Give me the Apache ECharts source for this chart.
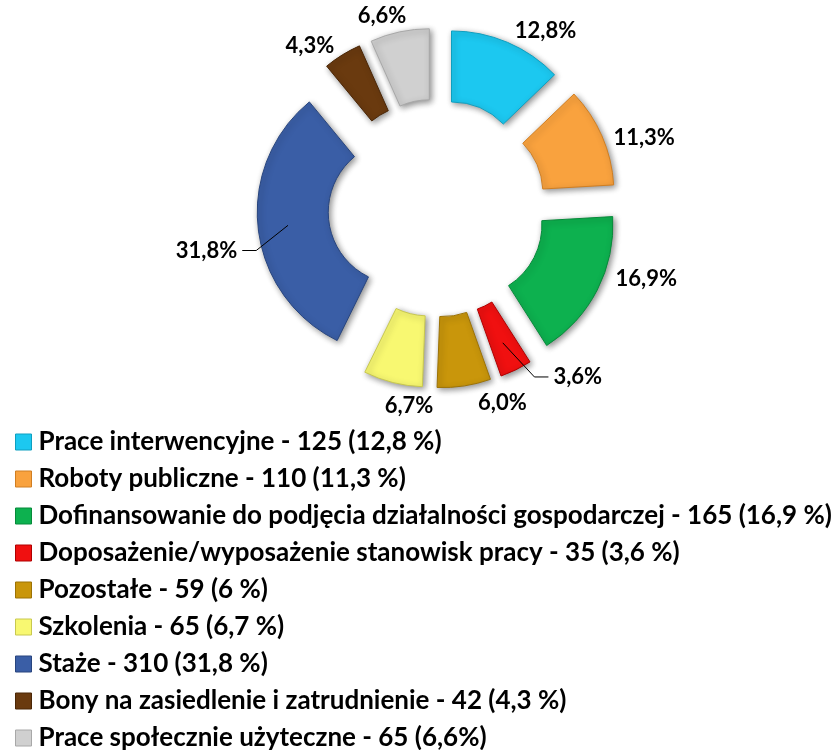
<!DOCTYPE html>
<html>
<head>
<meta charset="utf-8">
<script src="https://cdn.jsdelivr.net/npm/echarts@6/dist/echarts.min.js"></script>
<style>
html,body{margin:0;padding:0;background:#fff;}
#main{width:837px;height:750px;}
</style>
</head>
<body>
<div id="main"></div>
<script>
var categories = [
  'Prace interwencyjne',
  'Roboty publiczne',
  'Dofinansowanie do podjęcia działalności gospodarczej',
  'Doposażenie/wyposażenie stanowisk pracy',
  'Pozostałe',
  'Szkolenia',
  'Staże',
  'Bony na zasiedlenie i zatrudnienie',
  'Prace społecznie użyteczne'
];
var values = [125, 110, 165, 35, 59, 65, 310, 42, 65];
var labelPct = ['12,8%', '11,3%', '16,9%', '3,6%', '6,0%', '6,7%', '31,8%', '4,3%', '6,6%'];
var legendPct = ['12,8 %', '11,3 %', '16,9 %', '3,6 %', '6 %', '6,7 %', '31,8 %', '4,3 %', '6,6%'];

// styles
var colors = ['#1CC8F0', '#F9A23E', '#0DB14F', '#F01010', '#C9960B', '#F8F871', '#3A5EA6', '#6A3A0F', '#D0D0D0'];
var borders = ['#0E9FC0', '#D07E22', '#078A3A', '#B00000', '#9C7205', '#C8C850', '#28457E', '#4A2606', '#A8A8A8'];
// small label nudges (Excel "best fit" placement), in px
var labelNudge = [[-6, -6], [-5, 4], [2, -14], [15, 0], [2, 11], [53, 18], [4, 21], [6, -4], [19, -10]];
var leaderInset = 30; // Excel leader lines start inside the slice

var FONT = 'Lato';
var PIE_CENTER = [437, 208];
var PIE_RADIUS = [72, 143];
var EXPLODE = 37;

var sliceData = values.map(function (v, i) {
  return {
    name: categories[i],
    value: v,
    selected: true,
    itemStyle: { color: colors[i], borderColor: borders[i] }
  };
});
var labelData = values.map(function (v, i) {
  var item = {
    name: categories[i],
    value: v,
    selected: true,
    labelLine: { show: false, length: 6, length2: 6 }
  };
  if (i === 3) item.labelLine = { show: true, length: 8, length2: 14 };
  if (i === 6) item.labelLine = { show: true, length: 6, length2: 14 };
  return item;
});

var chart = echarts.init(document.getElementById('main'), null, { renderer: 'canvas' });
chart.setOption({
  animation: false,
  color: colors,
  legend: {
    orient: 'vertical',
    left: 15,
    top: 429,
    height: 330,
    padding: 0,
    itemWidth: 16,
    itemHeight: 16,
    itemGap: 11,
    icon: 'rect',
    selectedMode: false,
    itemStyle: { borderWidth: 1 },
    textStyle: { fontFamily: FONT, fontWeight: 'bold', fontSize: 26, color: '#000', lineHeight: 26, padding: [0, 0, 0, 2] },
    formatter: function (name) {
      var i = categories.indexOf(name);
      return name + ' - ' + values[i] + ' (' + legendPct[i] + ')';
    },
    data: categories
  },
  series: [{
    type: 'pie',
    z: 2,
    center: PIE_CENTER,
    radius: PIE_RADIUS,
    startAngle: 90,
    clockwise: true,
    selectedMode: 'multiple',
    selectedOffset: EXPLODE,
    silent: true,
    emphasis: { disabled: true },
    itemStyle: {
      borderWidth: 1,
      shadowBlur: 6,
      shadowColor: 'rgba(0,0,0,0.45)',
      shadowOffsetX: 2,
      shadowOffsetY: 2
    },
    label: { show: false },
    labelLine: { show: false },
    data: sliceData
  }, {
    type: 'pie',
    z: 5,
    center: PIE_CENTER,
    radius: PIE_RADIUS,
    startAngle: 90,
    clockwise: true,
    selectedMode: 'multiple',
    selectedOffset: EXPLODE,
    avoidLabelOverlap: false,
    silent: true,
    emphasis: { disabled: true },
    itemStyle: { color: 'rgba(0,0,0,0)', borderWidth: 0 },
    label: {
      show: true,
      position: 'outside',
      fontFamily: FONT,
      fontWeight: 'bold',
      fontSize: 22,
      color: '#000',
      formatter: function (p) { return labelPct[p.dataIndex]; }
    },
    labelLayout: function (p) {
      var n = labelNudge[p.dataIndex];
      var res = { dx: n[0], dy: n[1] };
      var pts = p.labelLinePoints;
      if (pts && pts.length === 3) {
        var vx = pts[1][0] - pts[0][0], vy = pts[1][1] - pts[0][1];
        var len = Math.sqrt(vx * vx + vy * vy) || 1;
        res.labelLinePoints = [
          [pts[0][0] - leaderInset * vx / len, pts[0][1] - leaderInset * vy / len],
          [pts[1][0] + n[0], pts[1][1] + n[1]],
          [pts[2][0] + n[0], pts[2][1] + n[1]]
        ];
      }
      return res;
    },
    labelLine: { showAbove: true, lineStyle: { color: '#000', width: 1 } },
    data: labelData
  }]
});
</script>
</body>
</html>
